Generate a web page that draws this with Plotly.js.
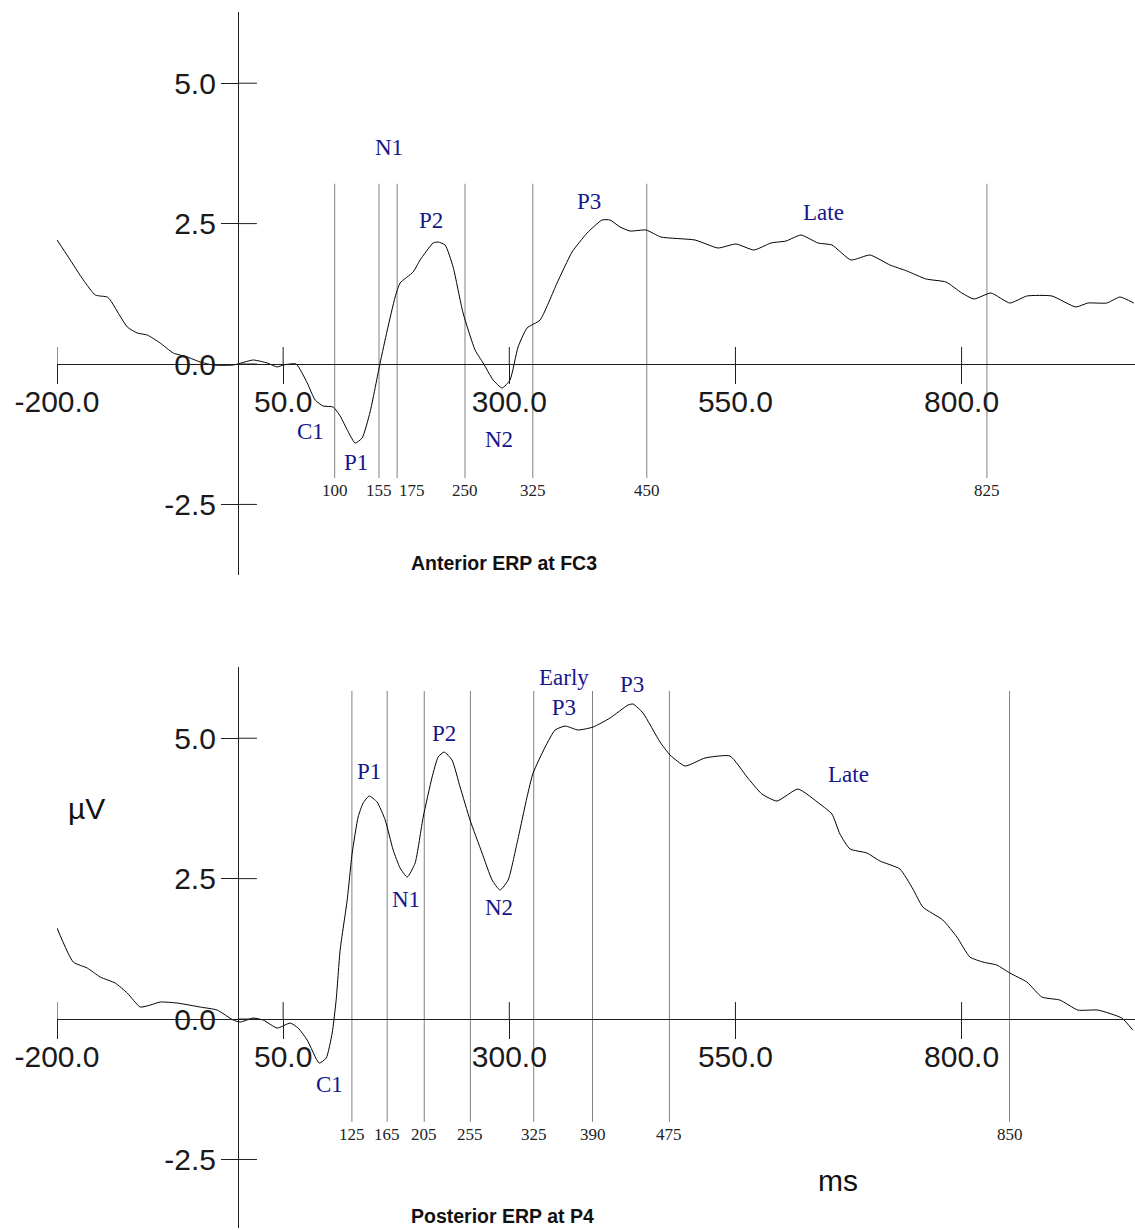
<!DOCTYPE html>
<html>
<head>
<meta charset="utf-8">
<script src="https://cdn.plot.ly/plotly-3.0.1.min.js"></script>
<style>html,body{margin:0;padding:0;background:#fff;}#chart{width:1135px;height:1230px;}</style>
</head>
<body>
<div id="chart"></div>
<script>
// ---------------- DATA ----------------
const xTickVals = [-200, 50, 300, 550, 800];
const xTickText = ['-200.0', '50.0', '300.0', '550.0', '800.0'];
const yTickVals = [5, 2.5, 0, -2.5];
const yTickText = ['5.0', '2.5', '0.0', '-2.5'];

// Anterior ERP at FC3 (ms, µV)
const topMs = [-200,-187.5,-170.9,-157.7,-144.4,-141.1,-122.3,-111.3,-100.2,-85.9,-71.5,-56.0,-41.7,-27.3,-5.2,16.9,32.4,43.4,50.1,64.4,76.6,85.4,94.2,105.3,113.0,129.6,137.3,146.1,157.2,164.9,173.8,179.3,193.7,201.4,215.8,221.3,229.1,237.9,248.9,262.2,271.1,282.1,292.0,300.8,309.7,319.6,334.0,352.8,369.4,386.0,402.5,411.4,422.4,433.5,451.2,467.7,505.3,530.7,550.6,570.5,589.3,605.9,622.4,641.2,656.7,677.7,698.7,720.8,739.6,760.6,782.7,800.3,813.6,832.4,853.4,872.2,899.8,926.3,939.6,960.6,975.0,990.4];
const topUv = [2.21,1.905,1.496,1.229,1.193,1.140,0.659,0.552,0.516,0.374,0.196,0.125,0.036,-0.018,-0.018,0.071,0.018,-0.053,-0.018,0.0,-0.338,-0.641,-0.748,-0.766,-0.926,-1.407,-1.318,-0.855,0.018,0.588,1.193,1.443,1.638,1.852,2.155,2.172,2.119,1.727,0.908,0.249,0.018,-0.285,-0.427,-0.285,0.303,0.641,0.783,1.442,1.994,2.332,2.564,2.564,2.440,2.368,2.386,2.261,2.208,2.066,2.137,2.030,2.155,2.190,2.297,2.155,2.119,1.852,1.941,1.763,1.656,1.514,1.460,1.264,1.157,1.264,1.086,1.211,1.211,1.015,1.086,1.086,1.193,1.086];

// Posterior ERP at P4 (ms, µV)
const botMs = [-200,-182.0,-166.5,-152.2,-135.6,-122.3,-108.0,-96.9,-85.9,-67.1,-41.7,-22.9,-5.2,2.5,16.9,28.0,43.4,57.8,66.6,76.6,89.8,97.6,104.2,108.6,113.0,120.8,126.3,132.9,138.4,145.1,153.9,162.8,171.6,179.3,187.1,195.9,204.8,214.7,221.3,227.9,236.7,245.6,256.6,269.9,281.0,289.8,298.7,308.6,319.6,326.3,339.6,350.6,361.7,376.0,392.6,411.4,431.3,436.8,447.8,466.6,477.7,494.3,516.4,544.0,562.8,579.3,595.9,619.1,643.4,656.7,665.5,676.6,695.4,709.7,731.8,746.2,757.2,779.3,794.8,809.2,823.6,839.0,853.4,872.2,888.8,908.7,928.6,950.6,977.1,989.3];
const botUv = [1.62,1.015,0.908,0.748,0.641,0.463,0.214,0.249,0.303,0.285,0.214,0.160,-0.018,-0.053,0.018,-0.018,-0.160,-0.071,-0.160,-0.374,-0.783,-0.694,-0.249,0.338,1.229,2.119,2.956,3.597,3.846,3.971,3.864,3.544,3.01,2.689,2.528,2.778,3.597,4.309,4.665,4.754,4.612,4.131,3.544,2.956,2.475,2.297,2.475,3.134,3.953,4.380,4.843,5.146,5.217,5.146,5.199,5.360,5.591,5.609,5.449,4.933,4.701,4.505,4.648,4.683,4.309,4.006,3.882,4.095,3.828,3.651,3.295,3.028,2.956,2.814,2.671,2.315,1.994,1.763,1.460,1.104,1.015,0.961,0.819,0.659,0.392,0.338,0.160,0.160,0.018,-0.196];

// Window boundaries (ms, as drawn in the picture) and their labels
const topBoundMs = [107, 156, 176, 251, 326, 452, 828];
const topBoundLabels = ['100', '155', '175', '250', '325', '450', '825'];
const botBoundMs = [126, 165, 206, 257, 327, 392, 477, 853];
const botBoundLabels = ['125', '165', '205', '255', '325', '390', '475', '850'];

// Component labels (text, ms, µV)
const topCompText = ['N1', 'P2', 'P3', 'Late', 'C1', 'P1', 'N2'];
const topCompMs   = [167, 213, 388, 647, 80, 130, 289];
const topCompUv   = [3.86, 2.55, 2.90, 2.69, -1.21, -1.75, -1.35];
const botCompText = ['Early<br>P3', 'P3', 'P1', 'P2', 'Late', 'N1', 'N2', 'C1'];
const botCompMs   = [361, 436, 145, 228, 675, 186, 289, 101];
const botCompUv   = [5.82, 5.95, 4.40, 5.09, 4.36, 2.12, 1.99, -1.16];

const topTitle = 'Anterior ERP at FC3';
const botTitle = 'Posterior ERP at P4';
const yUnit = 'µV';
const xUnit = 'ms';

// ---------------- LAYOUT ----------------
const W = 1135, H = 1230;
const xRange = [-200, 991.7];
const xDomain = [57 / W, 1];
const topRange = [-3.757, 6.268];
const botRange = [-3.72, 6.268];
const topDomain = [(H - 575) / H, (H - 12) / H];
const botDomain = [(H - 1228) / H, (H - 667) / H];
const pxPerMs = (xDomain[1] - xDomain[0]) * W / (xRange[1] - xRange[0]);

function frac(v, range, domain) {
  return domain[0] + (v - range[0]) / (range[1] - range[0]) * (domain[1] - domain[0]);
}
const yAxisPos = frac(0, xRange, xDomain);

const sans = 'Arial, "Liberation Sans", sans-serif';
const serif = '"Times New Roman", "Liberation Serif", serif';
const navy = '#16168c';
const axisColor = '#1e1e1e';
const boundColor = '#808080';

function xAx(yRange, yDomain) {
  return {
    domain: xDomain, range: xRange, anchor: 'free',
    position: frac(0, yRange, yDomain),
    showline: true, linecolor: axisColor, linewidth: 1,
    ticks: 'outside', ticklen: 19, tickcolor: axisColor, tickwidth: 1,
    ticklabelstandoff: -8,
    tickmode: 'array', tickvals: xTickVals, ticktext: xTickText,
    tickfont: {family: sans, size: 30, color: '#1a1a1a'},
    showgrid: false, zeroline: false, fixedrange: true
  };
}
function yAx(yRange, yDomain) {
  return {
    domain: yDomain, range: yRange, anchor: 'free', position: yAxisPos,
    showline: true, linecolor: axisColor, linewidth: 1,
    ticks: 'outside', ticklen: 17, tickcolor: axisColor, tickwidth: 1,
    ticklabelstandoff: -1,
    tickmode: 'array', tickvals: yTickVals, ticktext: yTickText,
    tickfont: {family: sans, size: 30, color: '#1a1a1a'},
    showgrid: false, zeroline: false, fixedrange: true
  };
}

const shapes = [];
const annotations = [];

function panelDecor(xr, yr, boundMs, boundLabels, lineTop, lineBot, labelY, compText, compMs, compUv) {
  // inner half of crossing ticks
  xTickVals.forEach(v => shapes.push({type: 'line', xref: xr, yref: yr, ysizemode: 'pixel', yanchor: 0,
    x0: v, x1: v, y0: 0, y1: 17, line: {color: axisColor, width: 1}}));
  yTickVals.forEach(v => shapes.push({type: 'line', xref: xr, yref: yr, xsizemode: 'pixel', xanchor: 0,
    x0: 0, x1: 19, y0: v, y1: v, line: {color: axisColor, width: 1}}));
  let prevRight = -Infinity;
  boundMs.forEach((m, i) => {
    shapes.push({type: 'line', xref: xr, yref: yr, x0: m, x1: m, y0: lineBot, y1: lineTop,
      line: {color: boundColor, width: 1}, layer: 'below'});
    // shift a label right if it would collide with the previous one
    const halfW = 13.5, cx = m * pxPerMs;
    let shift = 0;
    if (cx - halfW < prevRight + 6) shift = prevRight + 6 - (cx - halfW);
    prevRight = cx + shift + halfW;
    annotations.push({xref: xr, yref: yr, x: m, y: labelY, xshift: shift, text: boundLabels[i], showarrow: false,
      xanchor: 'center', yanchor: 'middle', font: {family: serif, size: 17, color: '#222'}});
  });
  compText.forEach((t, i) => annotations.push({xref: xr, yref: yr, x: compMs[i], y: compUv[i], text: t,
    showarrow: false, xanchor: 'center', yanchor: 'middle',
    font: {family: serif, size: 23, color: navy}}));
}
panelDecor('x', 'y', topBoundMs, topBoundLabels, 3.21, -2.03, -2.26, topCompText, topCompMs, topCompUv);
panelDecor('x2', 'y2', botBoundMs, botBoundLabels, 5.84, -1.83, -2.06, botCompText, botCompMs, botCompUv);

annotations.push({xref: 'paper', yref: 'paper', x: 504 / W, y: (H - 563) / H, text: '<b>' + topTitle + '</b>',
  showarrow: false, xanchor: 'center', yanchor: 'middle', font: {family: sans, size: 19.5, color: '#111'}});
annotations.push({xref: 'paper', yref: 'paper', x: 502 / W, y: (H - 1216) / H, text: '<b>' + botTitle + '</b>',
  showarrow: false, xanchor: 'center', yanchor: 'middle', font: {family: sans, size: 19.5, color: '#111'}});
annotations.push({xref: 'paper', yref: 'paper', x: 86 / W, y: (H - 808) / H, text: yUnit,
  showarrow: false, xanchor: 'center', yanchor: 'middle', font: {family: sans, size: 30, color: '#111'}});
annotations.push({xref: 'paper', yref: 'paper', x: 838 / W, y: (H - 1180) / H, text: xUnit,
  showarrow: false, xanchor: 'center', yanchor: 'middle', font: {family: sans, size: 30, color: '#111'}});

const traces = [
  {x: topMs, y: topUv, xaxis: 'x', yaxis: 'y', type: 'scatter', mode: 'lines',
   line: {color: '#000', width: 1, shape: 'spline', smoothing: 0.5}, hoverinfo: 'skip'},
  {x: botMs, y: botUv, xaxis: 'x2', yaxis: 'y2', type: 'scatter', mode: 'lines',
   line: {color: '#000', width: 1, shape: 'spline', smoothing: 0.5}, hoverinfo: 'skip'}
];

const layout = {
  width: W, height: H,
  margin: {l: 0, r: 0, t: 0, b: 0},
  paper_bgcolor: '#fff', plot_bgcolor: 'rgba(0,0,0,0)',
  showlegend: false,
  xaxis: xAx(topRange, topDomain),
  yaxis: yAx(topRange, topDomain),
  xaxis2: xAx(botRange, botDomain),
  yaxis2: yAx(botRange, botDomain),
  shapes: shapes,
  annotations: annotations
};

Plotly.newPlot('chart', traces, layout, {staticPlot: true, displayModeBar: false});
</script>
</body>
</html>
